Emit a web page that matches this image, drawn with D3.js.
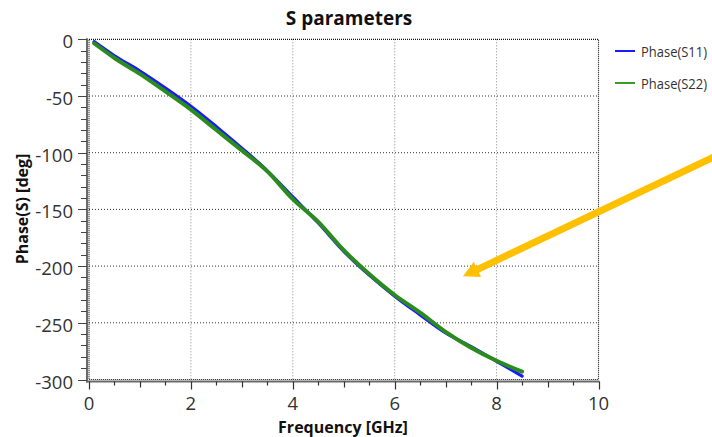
<!DOCTYPE html>
<html><head><meta charset="utf-8">
<script src="https://cdn.jsdelivr.net/npm/d3@7"></script>
<style>
html,body{margin:0;padding:0;background:#fff;}
svg{display:block;font-family:"Open Sans",sans-serif;}
</style></head>
<body><svg id="c" width="712" height="437"></svg>
<script>
const freq = [0.1, 0.5, 1, 1.5, 2, 2.5, 3, 3.5, 4, 4.5, 5, 5.5, 6, 6.5, 7, 7.5, 8, 8.5];
const s11  = [-2, -14.5, -28, -43, -59, -77, -96, -116, -139, -162, -187, -208, -226.5, -243, -259, -271, -284, -297];
const s22  = [-3.5, -16.5, -30.5, -46, -62, -80, -98, -116.5, -141, -161, -186, -207, -225.5, -241, -258, -272, -283.5, -293];
const seriesNames = ["Phase(S11)", "Phase(S22)"];
const seriesColors = ["#1a1aff", "#2a8c1c"];
const xTicks = [0, 2, 4, 6, 8, 10];
const yTicks = [0, -50, -100, -150, -200, -250, -300];
// annotation arrow (tail, tip) in data units
const arrowTail = [12.3, -103];
const arrowTip = [7.34, -209];

const svg = d3.select("#c");
const L = 89, R = 598.5, T = 39.3, B = 379.5;
const x = d3.scaleLinear().domain([0, 10]).range([L, R]);
const y = d3.scaleLinear().domain([-300, 0]).range([B, T]);

// title
svg.append("text").attr("x", 349).attr("y", 25).attr("text-anchor", "middle")
  .attr("font-size", 19).attr("font-weight", "bold").attr("fill", "#111").text("S parameters");

// grid
const g = svg.append("g");
g.selectAll(".hg").data(yTicks.filter(d => d > -300 && d < 0)).join("line")
  .attr("x1", L).attr("x2", R).attr("y1", d => y(d)).attr("y2", d => y(d))
  .attr("stroke", "#333").attr("stroke-width", 1).attr("stroke-dasharray", "1,2");
g.selectAll(".vg").data(xTicks.filter(d => d > 0 && d < 10)).join("line")
  .attr("x1", d => x(d)).attr("x2", d => x(d)).attr("y1", T).attr("y2", B)
  .attr("stroke", "#888").attr("stroke-width", 1).attr("stroke-dasharray", "1,2");
// plot border dotted
svg.append("rect").attr("x", L).attr("y", T).attr("width", R - L).attr("height", B - T)
  .attr("fill", "none").attr("stroke", "#111").attr("stroke-width", 1.2).attr("stroke-dasharray", "1,1");

// axis lines
svg.append("line").attr("x1", L - 2).attr("x2", L - 2).attr("y1", T - 1).attr("y2", B + 3)
  .attr("stroke", "#6a6a6a").attr("stroke-width", 2);
svg.append("line").attr("x1", L - 3).attr("x2", R + 1).attr("y1", B + 2).attr("y2", B + 2)
  .attr("stroke", "#6a6a6a").attr("stroke-width", 2);

// y ticks
const yMinor = d3.range(0, -301, -10);
svg.selectAll(".yt").data(yMinor).join("line")
  .attr("x1", d => (d % 50 === 0) ? L - 11 : L - 8).attr("x2", L - 2)
  .attr("y1", d => Math.round(y(d)) + 0.5).attr("y2", d => Math.round(y(d)) + 0.5)
  .attr("stroke", "#444").attr("stroke-width", 1);
svg.selectAll(".yl").data(yTicks).join("text")
  .attr("x", 73).attr("y", d => y(d)).attr("dy", 9)
  .attr("text-anchor", "end").attr("font-size", 18.5).attr("fill", "#333").text(d => d);

// x ticks
const xMinor = d3.range(0, 10.01, 0.5);
svg.selectAll(".xt").data(xMinor).join("line")
  .attr("x1", d => Math.round(x(d)) + 0.5).attr("x2", d => Math.round(x(d)) + 0.5)
  .attr("y1", B + 2).attr("y2", d => (d % 2 === 0) ? B + 10 : (d % 1 === 0 ? B + 8 : B + 6))
  .attr("stroke", "#333").attr("stroke-width", 1.2);
svg.selectAll(".xl").data(xTicks).join("text")
  .attr("x", d => x(d)).attr("y", 410)
  .attr("text-anchor", "middle").attr("font-size", 18.5).attr("fill", "#333").text(d => d);

// axis titles
svg.append("text").attr("x", 343).attr("y", 433).attr("text-anchor", "middle")
  .attr("font-size", 16).attr("font-weight", "bold").attr("fill", "#111").text("Frequency [GHz]");
svg.append("text").attr("transform", "translate(28,209) rotate(-90)").attr("text-anchor", "middle")
  .attr("font-size", 16).attr("font-weight", "bold").attr("fill", "#111").text("Phase(S) [deg]");

// lines
const line = d3.line().x(d => x(d[0])).y(d => y(d[1])).curve(d3.curveMonotoneX);
const series = [s11, s22];
const widths = [3.2, 4];
series.forEach((s, i) => {
  svg.append("path").datum(freq.map((f, j) => [f, s[j]]))
    .attr("d", line).attr("fill", "none").attr("stroke", seriesColors[i])
    .attr("stroke-width", widths[i]).attr("stroke-linejoin", "round").attr("stroke-linecap", "round");
});

// legend
seriesNames.forEach((n, i) => {
  const ly = 51 + i * 32;
  svg.append("line").attr("x1", 615).attr("x2", 635).attr("y1", ly).attr("y2", ly)
    .attr("stroke", i === 0 ? "#1a1aff" : "#3a9a2a").attr("stroke-width", 2);
  svg.append("text").attr("x", 641).attr("y", ly + 6).attr("font-size", 14).attr("fill", "#333")
    .attr("textLength", 66).attr("lengthAdjust", "spacingAndGlyphs").text(n);
});

// annotation arrow
const tx = x(arrowTip[0]), ty = y(arrowTip[1]);
const sx = x(arrowTail[0]), sy = y(arrowTail[1]);
const dx = tx - sx, dy = ty - sy, len = Math.hypot(dx, dy);
const ux = dx / len, uy = dy / len, px = -uy, py = ux;
const headLen = 16, headHalf = 8.5;
const bx = tx - ux * headLen, by = ty - uy * headLen;
svg.append("line").attr("x1", sx).attr("y1", sy).attr("x2", bx + ux * 2).attr("y2", by + uy * 2)
  .attr("stroke", "#FFC000").attr("stroke-width", 7);
svg.append("polygon").attr("points",
  [[tx, ty], [bx + px * headHalf, by + py * headHalf], [bx - px * headHalf, by - py * headHalf]].map(p => p.join(",")).join(" "))
  .attr("fill", "#FFC000");
</script></body></html>
